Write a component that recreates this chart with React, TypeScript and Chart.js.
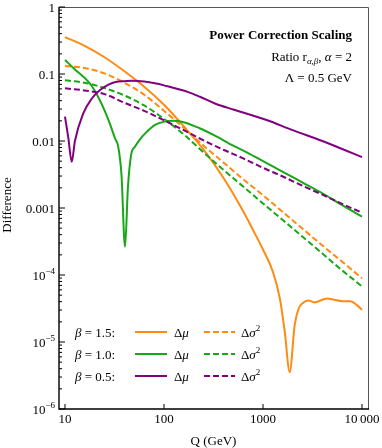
import React, { useEffect, useRef } from 'react';
import { Chart, registerables } from 'chart.js';

Chart.register(...registerables);

// ---- Data ----
const qOrangeSolid = [10, 15.8, 25.1, 39.8, 63.1, 100, 158, 251, 398, 631, 794, 1000, 1259, 1479, 1660, 1862, 2089, 2291, 2512, 2884, 3311, 3981, 4467, 5248, 6310, 7586, 8913, 10000];
const dOrangeSolid = [0.355, 0.263, 0.178, 0.11, 0.0646, 0.0347, 0.0166, 0.00741, 0.00282, 0.000891, 0.000468, 0.00024, 0.000112, 0.0000447, 0.0000141, 0.00000355, 0.0000178, 0.0000316, 0.000038, 0.0000417, 0.0000389, 0.0000427, 0.0000447, 0.0000427, 0.0000407, 0.0000407, 0.0000355, 0.0000302];

const qDashed = [10, 15.8, 25.1, 39.8, 63.1, 100, 158, 251, 398, 631, 1000, 1585, 2512, 3981, 6310, 10000];
const dOrangeDashed = [0.132, 0.123, 0.102, 0.0741, 0.049, 0.0282, 0.0158, 0.00851, 0.00479, 0.00269, 0.00155, 0.000871, 0.00049, 0.000275, 0.000158, 0.0000891];
const dGreenDashed = [0.0804, 0.0741, 0.0617, 0.0479, 0.0339, 0.0214, 0.0126, 0.00676, 0.00372, 0.00209, 0.00117, 0.000661, 0.000372, 0.000209, 0.000117, 0.0000676];
const dPurpleDashed = [0.0612, 0.0569, 0.0501, 0.0372, 0.0282, 0.0204, 0.0145, 0.0102, 0.00741, 0.0055, 0.00398, 0.00295, 0.00214, 0.00158, 0.00115, 0.000851];

const qGreenSolid = [10, 12.6, 17.2, 20, 25.4, 28.2, 32, 34.5, 37.2, 40.4, 43.2, 46.5, 50.9, 57.5, 64.6, 81.1, 102, 126, 158, 229, 327, 501, 708, 1000, 1585, 2512, 3981, 6310, 10000];
const dGreenSolid = [0.162, 0.117, 0.0767, 0.0562, 0.0275, 0.0186, 0.011, 0.00822, 0.00316, 0.000263, 0.002, 0.00617, 0.00822, 0.0107, 0.013, 0.0174, 0.0195, 0.02, 0.0191, 0.0155, 0.012, 0.00851, 0.00661, 0.00501, 0.00347, 0.0024, 0.00166, 0.0011, 0.000741];

const qPurpleSolid = [10, 10.8, 11.7, 12.6, 15.3, 18.6, 22.6, 27.5, 33.3, 39.8, 47.1, 63.1, 81.1, 100, 176, 231, 327, 501, 1089, 1995, 3981, 6310, 10000];
const dPurpleSolid = [0.0231, 0.0112, 0.0049, 0.01, 0.0259, 0.0427, 0.0575, 0.0692, 0.0767, 0.078, 0.079, 0.077, 0.0726, 0.0676, 0.0537, 0.0457, 0.0363, 0.0295, 0.0206, 0.0145, 0.01, 0.00759, 0.00575];

const xTickValues = [10, 100, 1000, 10000];
const xTickLabels = ['10', '100', '1000', '10\u2009000'];
const yTickValues = [1, 0.1, 0.01, 0.001, 1e-4, 1e-5, 1e-6];
const yTickLabels = ['1', '0.1', '0.01', '0.001', '10^\u22124', '10^\u22125', '10^\u22126'];

const betaLabels = ['1.5', '1.0', '0.5'];
const ORANGE = '#ff8a12';
const GREEN = '#17a817';
const PURPLE = '#800080';
const betaColors = [ORANGE, GREEN, PURPLE];

const SERIF = '"Liberation Serif", "Times New Roman", serif';
const fnt = (size: number, italic = false, bold = false) =>
  `${italic ? 'italic ' : ''}${bold ? 'bold ' : ''}${size}px ${SERIF}`;

type Part = { t: string; size?: number; italic?: boolean; bold?: boolean; dy?: number };

function drawRich(ctx: CanvasRenderingContext2D, parts: Part[], x: number, y: number, align: 'left' | 'right' | 'center') {
  ctx.save();
  ctx.textAlign = 'left';
  ctx.textBaseline = 'alphabetic';
  let total = 0;
  const widths = parts.map((p) => {
    ctx.font = fnt(p.size ?? 13, p.italic, p.bold);
    const w = ctx.measureText(p.t).width;
    total += w;
    return w;
  });
  let cx = align === 'right' ? x - total : align === 'center' ? x - total / 2 : x;
  parts.forEach((p, i) => {
    ctx.font = fnt(p.size ?? 13, p.italic, p.bold);
    ctx.fillText(p.t, cx, y + (p.dy ?? 0));
    cx += widths[i];
  });
  ctx.restore();
}

const pts = (xs: number[], ys: number[]) => xs.map((x, i) => ({ x, y: ys[i] }));

const framePlugin = {
  id: 'framePlugin',
  afterDraw(chart: any) {
    const ctx: CanvasRenderingContext2D = chart.ctx;
    const { left, right, top, bottom } = chart.chartArea;
    const xs = chart.scales.x;
    const ys = chart.scales.y;
    ctx.save();
    ctx.fillStyle = '#000';
    // frame
    ctx.strokeStyle = '#555';
    ctx.lineWidth = 1;
    ctx.beginPath();
    ctx.moveTo(left, top + 0.5);
    ctx.lineTo(right + 0.5, top + 0.5);
    ctx.lineTo(right + 0.5, bottom);
    ctx.stroke();
    ctx.strokeStyle = '#000';
    ctx.lineWidth = 1.4;
    ctx.beginPath();
    ctx.moveTo(left, top);
    ctx.lineTo(left, bottom);
    ctx.lineTo(right + 1, bottom);
    ctx.stroke();

    // y ticks (inside)
    ctx.lineWidth = 1;
    for (let d = -6; d <= 0; d++) {
      const yp = ys.getPixelForValue(Math.pow(10, d));
      ctx.beginPath();
      ctx.moveTo(left, yp);
      ctx.lineTo(left + 6, yp);
      ctx.stroke();
      if (d < 0) {
        for (let k = 2; k <= 9; k++) {
          const ym = ys.getPixelForValue(k * Math.pow(10, d));
          ctx.beginPath();
          ctx.moveTo(left, ym);
          ctx.lineTo(left + 3, ym);
          ctx.stroke();
        }
      }
    }
    // x ticks (inside)
    xTickValues.forEach((v) => {
      const xp = xs.getPixelForValue(v);
      ctx.beginPath();
      ctx.moveTo(xp, bottom);
      ctx.lineTo(xp, bottom - 5);
      ctx.stroke();
    });

    // y tick labels
    yTickValues.forEach((v, i) => {
      const yp = ys.getPixelForValue(v);
      const lab = yTickLabels[i];
      let parts: Part[];
      if (lab.includes('^')) {
        const [b, e] = lab.split('^');
        parts = [{ t: b, size: 13 }, { t: e, size: 9, dy: -6 }];
      } else parts = [{ t: lab, size: 13 }];
      drawRich(ctx, parts, left - 4, yp + 4.5, 'right');
    });
    // x tick labels
    xTickValues.forEach((v, i) => {
      const xp = xs.getPixelForValue(v);
      drawRich(ctx, [{ t: xTickLabels[i], size: 13 }], xp, bottom + 14, 'center');
    });

    // axis titles
    drawRich(ctx, [{ t: 'Q (GeV)', size: 13 }], (left + right) / 2, bottom + 36, 'center');
    ctx.save();
    ctx.translate(11, 205);
    ctx.rotate(-Math.PI / 2);
    drawRich(ctx, [{ t: 'Difference', size: 13 }], 0, 0, 'center');
    ctx.restore();

    // annotation text
    drawRich(ctx, [{ t: 'Power Correction Scaling', size: 13, bold: true }], 352, 39, 'right');
    drawRich(ctx, [
      { t: 'Ratio r', size: 13 },
      { t: '\u03b1,\u03b2', size: 9, italic: true, dy: 3 },
      { t: ', ', size: 13 },
      { t: '\u03b1', size: 13, italic: true },
      { t: ' = 2', size: 13 },
    ], 352, 61, 'right');
    drawRich(ctx, [{ t: '\u039b = 0.5 GeV', size: 13 }], 352, 82, 'right');

    // legend
    betaLabels.forEach((b, i) => {
      const yc = 332 + i * 22;
      ctx.fillStyle = '#000';
      drawRich(ctx, [{ t: '\u03b2', size: 13, italic: true }, { t: ' = ' + b + ':', size: 13 }], 75, yc + 4.5, 'left');
      ctx.strokeStyle = betaColors[i];
      ctx.lineWidth = 2;
      ctx.setLineDash([]);
      ctx.beginPath();
      ctx.moveTo(135, yc);
      ctx.lineTo(167, yc);
      ctx.stroke();
      drawRich(ctx, [{ t: '\u0394', size: 13 }, { t: '\u03bc', size: 13, italic: true }], 174, yc + 4.5, 'left');
      ctx.setLineDash([6, 3]);
      ctx.beginPath();
      ctx.moveTo(204, yc);
      ctx.lineTo(235, yc);
      ctx.stroke();
      ctx.setLineDash([]);
      drawRich(ctx, [
        { t: '\u0394', size: 13 },
        { t: '\u03c3', size: 13, italic: true },
        { t: '2', size: 9, dy: -6 },
      ], 241, yc + 4.5, 'left');
    });
    ctx.restore();
  },
};

export default function App() {
  const ref = useRef<HTMLCanvasElement | null>(null);
  useEffect(() => {
    document.body.style.margin = '0';
    const canvas = ref.current!;
    const mk = (data: any, color: string, dashed: boolean) => ({
      data,
      borderColor: color,
      backgroundColor: color,
      borderWidth: 2,
      pointRadius: 0,
      cubicInterpolationMode: 'monotone',
      fill: false,
      borderDash: dashed ? [6, 3] : [],
    });
    const chart = new Chart(canvas, {
      type: 'line',
      data: {
        datasets: [
          mk(pts(qPurpleSolid, dPurpleSolid), PURPLE, false),
          mk(pts(qDashed, dPurpleDashed), PURPLE, true),
          mk(pts(qGreenSolid, dGreenSolid), GREEN, false),
          mk(pts(qDashed, dGreenDashed), GREEN, true),
          mk(pts(qDashed, dOrangeDashed), ORANGE, true),
          mk(pts(qOrangeSolid, dOrangeSolid), ORANGE, false),
        ] as any,
      },
      options: {
        animation: false,
        responsive: false,
        parsing: false as any,
        layout: { padding: { top: 7, right: 14, left: 0, bottom: 0 } },
        plugins: { legend: { display: false }, tooltip: { enabled: false } },
        scales: {
          x: {
            type: 'logarithmic',
            min: 8.7,
            max: 11500,
            grid: { display: false },
            border: { display: false },
            ticks: { display: false },
            afterFit: (s: any) => { s.height = 39; },
          } as any,
          y: {
            type: 'logarithmic',
            min: 1e-6,
            max: 1,
            grid: { display: false },
            border: { display: false },
            ticks: { display: false },
            afterFit: (s: any) => { s.width = 59; },
          } as any,
        },
      },
      plugins: [framePlugin],
    });
    return () => chart.destroy();
  }, []);
  return <canvas ref={ref} width={382} height={448} style={{ display: 'block' }} />;
}
